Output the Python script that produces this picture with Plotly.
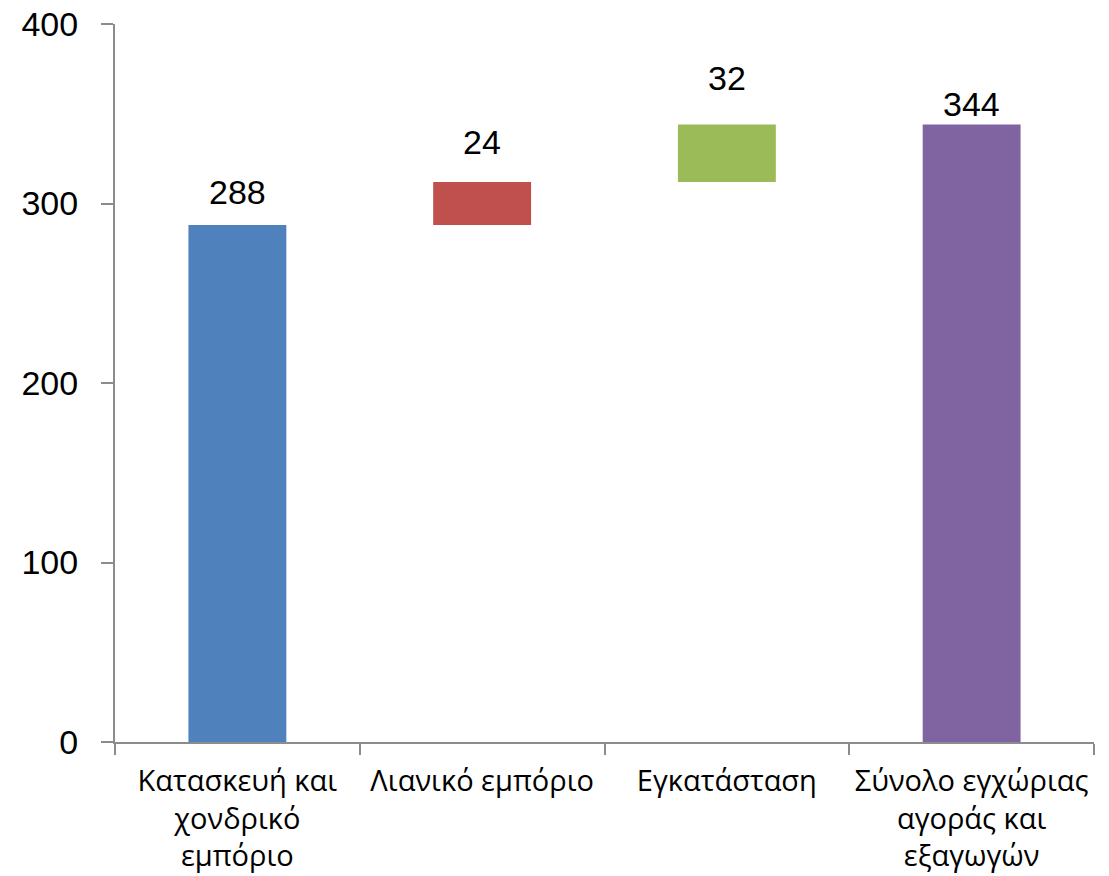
import plotly.graph_objects as go

categories = [
    "Κατασκευή και<br>χονδρικό<br>εμπόριο",
    "Λιανικό εμπόριο",
    "Εγκατάσταση",
    "Σύνολο εγχώριας<br>αγοράς και<br>εξαγωγών",
]
bar_base = [0, 288, 312, 0]
bar_values = [288, 24, 32, 344]
bar_colors = ["#4F81BD", "#C0504D", "#9BBB59", "#8064A2"]
y_ticks = [0, 100, 200, 300, 400]

AXIS_GREY = "#8C8C8C"

fig = go.Figure(
    go.Bar(
        x=categories,
        y=bar_values,
        base=bar_base,
        marker=dict(color=bar_colors, line=dict(width=0)),
        width=0.4,
        hoverinfo="skip",
    )
)

# value labels above each bar
label_shift = [33, 40, 47, 21]
for cat, b, v, dy in zip(categories, bar_base, bar_values, label_shift):
    fig.add_annotation(
        x=cat,
        y=b + v,
        text=str(v),
        showarrow=False,
        yshift=dy,
        font=dict(size=34, color="#000000"),
    )

fig.update_layout(
    width=1109,
    height=876,
    margin=dict(l=107, r=23, t=16, b=142),
    paper_bgcolor="white",
    plot_bgcolor="white",
    font=dict(family="Liberation Sans, Arial, sans-serif", color="#000000"),
    showlegend=False,
    xaxis=dict(
        type="category",
        automargin=False,
        tickson="boundaries",
        ticks="outside",
        ticklen=11,
        tickwidth=2,
        tickcolor=AXIS_GREY,
        showline=True,
        linecolor=AXIS_GREY,
        linewidth=2,
        showgrid=False,
        ticklabelstandoff=12,
        tickfont=dict(size=29, family="Open Sans, Liberation Sans, sans-serif"),
    ),
    yaxis=dict(
        range=[0, 400],
        automargin=False,
        tickvals=y_ticks,
        ticks="outside",
        ticklen=12,
        tickwidth=2,
        tickcolor=AXIS_GREY,
        showline=True,
        linecolor=AXIS_GREY,
        linewidth=2,
        showgrid=False,
        zeroline=False,
        ticklabelstandoff=16,
        ticklabeloverflow="allow",
        tickfont=dict(size=34),
    ),
)

fig.write_html("out.html")
